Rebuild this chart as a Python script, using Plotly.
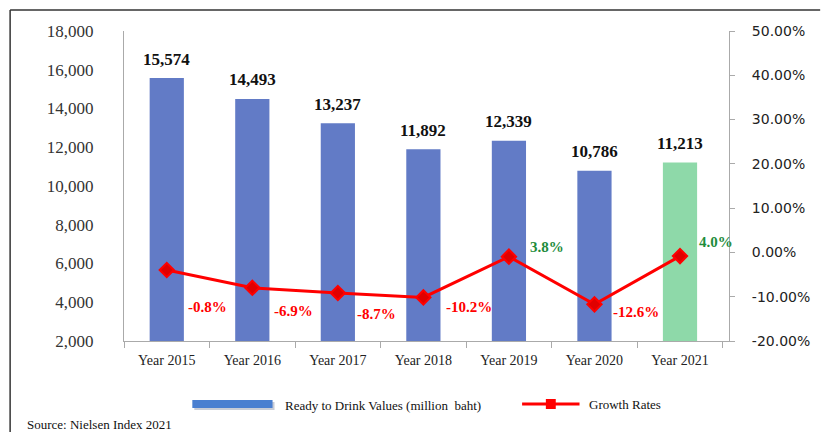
import plotly.graph_objects as go

# ---- data ----
years = ["Year 2015", "Year 2016", "Year 2017", "Year 2018", "Year 2019", "Year 2020", "Year 2021"]
values = [15574, 14493, 13237, 11892, 12339, 10786, 11213]
growth = [-0.8, -6.9, -8.7, -10.2, 3.8, -12.6, 4.0]
value_labels = ["15,574", "14,493", "13,237", "11,892", "12,339", "10,786", "11,213"]
growth_labels = ["-0.8%", "-6.9%", "-8.7%", "-10.2%", "3.8%", "-12.6%", "4.0%"]
left_ticks = [2000, 4000, 6000, 8000, 10000, 12000, 14000, 16000, 18000]
right_ticks = [-20, -10, 0, 10, 20, 30, 40, 50]

# ---- styling / layout helpers ----
W, H = 822, 432
L, R, T, B = 124, 741, 31, 341
BLUE = "#627BC6"
GREEN = "#8ED9A9"
RED = "#FF0000"
POS_GREEN = "#1E8C3C"
SERIF = "Liberation Serif, Times New Roman, serif"
SANS = "DejaVu Sans, Verdana, sans-serif"
label_shift = [(41, 37), (41, 23), (39, 21), (46, 10), (38, -10), (42, 8), (36, -14)]


def px(x):
    return (x - L) / (R - L)


def py(y):
    return (B - y) / (B - T)


bar_colors = [BLUE] * (len(years) - 1) + [GREEN]

fig = go.Figure()
fig.add_trace(go.Bar(
    x=years, y=values, marker=dict(color=bar_colors, line=dict(width=0)),
    width=0.4, yaxis="y", showlegend=False, hoverinfo="x+y",
))
fig.add_trace(go.Scatter(
    x=years, y=growth, yaxis="y3", mode="lines+markers",
    line=dict(color=RED, width=3),
    marker=dict(symbol="diamond", size=11, color="#E00000", line=dict(color=RED, width=2)),
    showlegend=False,
))

annotations = []
for yr, v, t in zip(years, values, value_labels):
    annotations.append(dict(
        x=yr, y=v, xref="x", yref="y", text="<b>" + t + "</b>", showarrow=False,
        yanchor="middle", yshift=19,
        font=dict(family=SERIF, size=17, color="#111"),
    ))
for yr, g, t, (dx, dy) in zip(years, growth, growth_labels, label_shift):
    annotations.append(dict(
        x=yr, y=g, xref="x", yref="y3", text="<b>" + t + "</b>", showarrow=False,
        xshift=dx, yshift=-dy,
        font=dict(family=SERIF, size=15, color=POS_GREEN if g > 0 else RED),
    ))

# legend (drawn manually to mimic the reference)
annotations.append(dict(
    x=px(285), y=py(405), xref="paper", yref="paper", xanchor="left", yanchor="middle",
    text="Ready to Drink Values (million\u00a0 baht)", showarrow=False,
    font=dict(family=SERIF, size=13, color="#111"),
))
annotations.append(dict(
    x=px(592), y=py(404), xref="paper", yref="paper", xanchor="left", yanchor="middle",
    text="Growth Rates", showarrow=False,
    font=dict(family=SERIF, size=13, color="#111"),
))
annotations.append(dict(
    x=px(24), y=py(424), xref="paper", yref="paper", xanchor="left", yanchor="middle",
    text="Source: Nielsen Index 2021", showarrow=False,
    font=dict(family=SERIF, size=13, color="#111"),
))

shapes = [
    # outer frame (left and top edges)
    dict(type="line", xref="paper", yref="paper", x0=px(9), x1=px(W + 5), y0=py(10), y1=py(10),
         line=dict(color="#333", width=1.5)),
    dict(type="line", xref="paper", yref="paper", x0=px(9), x1=px(9), y0=py(10), y1=py(H + 5),
         line=dict(color="#333", width=1.5)),
    # legend symbols
    dict(type="rect", xref="paper", yref="paper", x0=px(195), x1=px(276), y0=py(402), y1=py(410),
         line=dict(width=0), fillcolor="#C8CCD6"),
    dict(type="rect", xref="paper", yref="paper", x0=px(193), x1=px(274), y0=py(400), y1=py(408),
         line=dict(width=0), fillcolor="#4A7FD0"),
    dict(type="line", xref="paper", yref="paper", x0=px(526), x1=px(584), y0=py(404), y1=py(404),
         line=dict(color=RED, width=3)),
    dict(type="rect", xref="paper", yref="paper", x0=px(550), x1=px(560), y0=py(399), y1=py(409),
         line=dict(width=0), fillcolor=RED),
]

fig.update_layout(
    width=W, height=H,
    margin=dict(l=L, r=W - R, t=T, b=H - B),
    paper_bgcolor="white", plot_bgcolor="white",
    bargap=0.6,
    showlegend=False,
    xaxis=dict(
        type="category", showgrid=False, showline=True, linecolor="#AAAAAA", linewidth=1,
        ticks="outside", tickson="boundaries", ticklen=6, tickcolor="#AAAAAA",
        tickfont=dict(family=SERIF, size=14, color="#222"), ticklabelstandoff=6,
        zeroline=False,
    ),
    yaxis=dict(
        range=[2000, 18000], tickvals=left_ticks, tickformat=",d",
        showgrid=False, showline=True, linecolor="#AAAAAA", linewidth=1,
        ticks="", zeroline=False,
        tickfont=dict(family=SERIF, size=17, color="#333"), ticklabelstandoff=26,
    ),
    yaxis2=dict(
        range=[-20, 50], tickvals=right_ticks,
        ticktext=[f"{v:.2f}%" for v in right_ticks],
        overlaying="y", side="right", anchor="free", position=px(735),
        showgrid=False, showline=True, linecolor="#AAAAAA", linewidth=1,
        ticks="outside", ticklen=5, tickcolor="#AAAAAA", zeroline=False,
        tickfont=dict(family=SANS, size=14, color="#222"), ticklabelstandoff=14,
    ),
    yaxis3=dict(range=[-25.2, 81.4], overlaying="y", visible=False),
    annotations=annotations,
    shapes=shapes,
)

# invisible trace to make yaxis2 render
fig.add_trace(go.Scatter(x=[years[0]], y=[0], yaxis="y2", mode="markers",
                         marker=dict(opacity=0), showlegend=False, hoverinfo="skip"))

fig.write_html("out.html", config={"displayModeBar": False},
               post_script="document.body.style.margin='0';document.body.style.overflow='hidden';")
